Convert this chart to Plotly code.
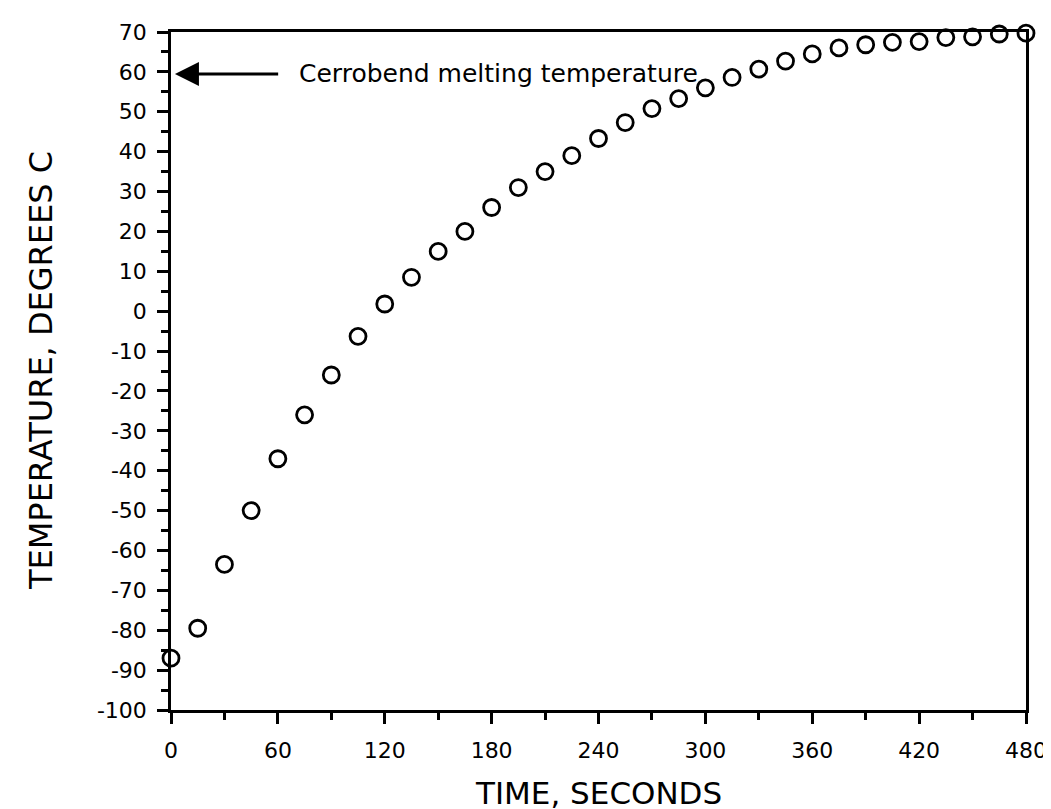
import plotly.graph_objects as go

time_s = [0, 15, 30, 45, 60, 75, 90, 105, 120, 135, 150, 165, 180, 195, 210, 225,
          240, 255, 270, 285, 300, 315, 330, 345, 360, 375, 390, 405, 420, 435,
          450, 465, 480]
temp_c = [-87, -79.5, -63.5, -50, -37, -26, -16, -6.3, 1.8, 8.5, 15, 20, 26, 31,
          35, 39, 43.3, 47.3, 50.8, 53.3, 56, 58.6, 60.7, 62.7, 64.5, 66, 66.8,
          67.4, 67.6, 68.6, 68.8, 69.5, 69.7]

x_ticks = [0, 60, 120, 180, 240, 300, 360, 420, 480]
y_ticks = list(range(-100, 71, 10))

melt_temp = 59.5
annotation_text = "Cerrobend melting temperature"

FONT = "DejaVu Sans, Arial, Helvetica, sans-serif"

fig = go.Figure()
fig.add_trace(go.Scatter(
    x=time_s, y=temp_c, mode="markers",
    marker=dict(symbol="circle-open", size=16, color="black",
                line=dict(width=2.8, color="black")),
    cliponaxis=False, showlegend=False,
))

fig.add_annotation(
    x=2.2, y=melt_temp, ax=61, ay=melt_temp, xref="x", yref="y",
    axref="x", ayref="y", text="", showarrow=True,
    arrowhead=2, arrowsize=1.6, arrowwidth=3, arrowcolor="black",
)
fig.add_annotation(
    x=71, y=melt_temp, xref="x", yref="y", text=annotation_text,
    showarrow=False, xanchor="left", yanchor="middle",
    font=dict(family=FONT, size=25, color="black"),
)

fig.add_annotation(
    x=0.5, y=-0.123, xref="paper", yref="paper", text="TIME, SECONDS",
    showarrow=False, xanchor="center", yanchor="middle",
    font=dict(family=FONT, size=31, color="black"),
)
fig.add_annotation(
    x=-0.152, y=0.5, xref="paper", yref="paper", text="TEMPERATURE, DEGREES C",
    showarrow=False, xanchor="center", yanchor="middle", textangle=-90,
    font=dict(family=FONT, size=32, color="black"),
)

axis_common = dict(
    showline=True, linecolor="black", linewidth=2.5, mirror=True,
    ticks="outside", tickcolor="black", tickwidth=2.5, ticklen=11,
    showgrid=False, zeroline=False,
    tickfont=dict(family=FONT, size=22, color="black"),
)

fig.update_xaxes(
    range=[0, 480], tickvals=x_ticks, ticktext=[str(v) for v in x_ticks],
    minor=dict(dtick=30, tick0=0, ticks="outside", ticklen=7, tickwidth=2.5,
               tickcolor="black", showgrid=False),
    ticklabelstandoff=8,
    **axis_common,
)
fig.update_yaxes(
    range=[-100, 70], tickvals=y_ticks, ticktext=[str(v) for v in y_ticks],
    minor=dict(dtick=5, tick0=0, ticks="outside", ticklen=7, tickwidth=2.5,
               tickcolor="black", showgrid=False),
    ticklabelstandoff=6,
    **axis_common,
)

fig.update_layout(
    width=1051, height=809,
    margin=dict(l=163, r=29, t=17, b=107),
    plot_bgcolor="white", paper_bgcolor="white",
    font=dict(family=FONT, color="black"),
)

fig.write_html("out.html")
